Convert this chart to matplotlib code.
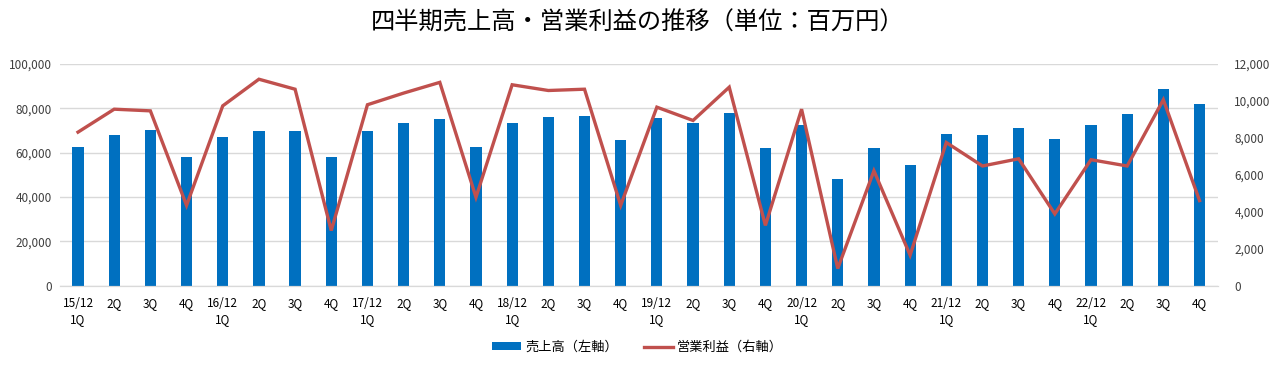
import matplotlib
matplotlib.use('Agg')
import matplotlib.pyplot as plt
import numpy as np

plt.rcParams['font.family'] = ['Noto Sans CJK JP', 'DejaVu Sans']

# quarters 15/12 1Q .. 22/12 4Q
years = ['15/12', '16/12', '17/12', '18/12', '19/12', '20/12', '21/12', '22/12']
quarters = ['1Q', '2Q', '3Q', '4Q']
labels = []
for y in years:
    for q in quarters:
        labels.append(y + '\n' + q if q == '1Q' else q)

# sales (left axis, million yen)
sales = [62700, 68100, 70300, 58200, 67200, 69900, 69900, 58200,
         69900, 73500, 75300, 62700, 73500, 76200, 76600, 65800,
         75700, 73500, 78000, 62200, 72600, 48300, 62200, 54600,
         68500, 68100, 71200, 66300, 72600, 77500, 88800, 82000]

# operating profit (right axis, million yen)
profit = [8310, 9550, 9460, 4350, 9730, 11170, 10630, 2990,
          9790, 10420, 11000, 4790, 10870, 10560, 10630, 4350,
          9660, 8940, 10740, 3270, 9550, 940, 6220, 1660,
          7750, 6480, 6870, 3890, 6820, 6480, 10060, 4610]

bar_color = '#0070C0'
line_color = '#C0504D'

fig = plt.figure(figsize=(12.75, 3.67), dpi=100)
ax = fig.add_axes([0.047, 0.221, 0.908, 0.605])
ax2 = ax.twinx()

x = np.arange(len(labels))
ax.bar(x, sales, width=0.31, color=bar_color, label='売上高（左軸）', zorder=2)
ax2.plot(x, profit, color=line_color, linewidth=2.4, label='営業利益（右軸）',
         solid_joinstyle='miter')

ax.set_xlim(-0.5, len(labels) - 0.5)
ax.set_ylim(0, 100000)
ax2.set_ylim(0, 12000)
ax.set_yticks(np.arange(0, 100001, 20000))
ax2.set_yticks(np.arange(0, 12001, 2000))
fmt = matplotlib.ticker.FuncFormatter(lambda v, p: f'{int(v):,}')
ax.yaxis.set_major_formatter(fmt)
ax2.yaxis.set_major_formatter(fmt)

ax.set_xticks(x)
ax.set_xticklabels(labels, fontsize=8.5, linespacing=1.3)
ax.tick_params(axis='x', length=0, pad=8)
ax.tick_params(axis='y', length=0, labelsize=8.5, colors='#404040', pad=6)
ax2.tick_params(axis='y', length=0, labelsize=8.5, colors='#404040', pad=12)
for lab in ax.get_xticklabels():
    lab.set_color('black')

ax.grid(axis='y', color='#D9D9D9', linewidth=1, zorder=0)
ax.set_axisbelow(True)
for a in (ax, ax2):
    for s in ('top', 'left', 'right'):
        a.spines[s].set_visible(False)
    a.spines['bottom'].set_color('#D9D9D9')

fig.text(0.5, 1 - 23 / 367, '四半期売上高・営業利益の推移（単位：百万円）',
         fontsize=17.5, ha='center', va='center')

h1, l1 = ax.get_legend_handles_labels()
h2, l2 = ax2.get_legend_handles_labels()
fig.legend(h1 + h2, l1 + l2, loc='center', bbox_to_anchor=(0.5, 0.053), ncol=2,
           frameon=False, fontsize=9.5, handlelength=2.2, handleheight=0.55,
           columnspacing=2.0, handletextpad=0.3)

fig.savefig('out.png', dpi=100)
